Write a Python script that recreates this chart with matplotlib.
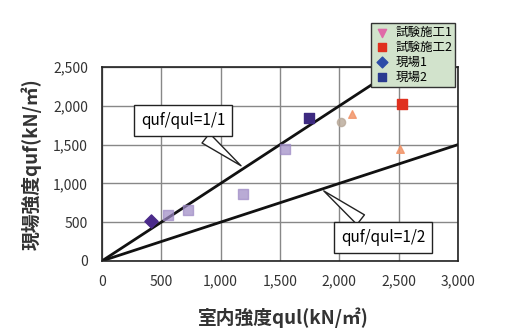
import matplotlib
matplotlib.use("Agg")
import matplotlib.pyplot as plt

plt.rcParams["font.family"] = ["Noto Sans CJK JP", "DejaVu Sans"]

# data (qul, quf in kN/m2)
shiken1_x = [560, 725, 1190, 1540]
shiken1_y = [590, 655, 860, 1450]
shiken2_x = [2010, 2110, 2530, 2510]
shiken2_y = [1790, 1890, 2020, 1450]
genba1_x = [410]
genba1_y = [520]
genba2_x = [1740]
genba2_y = [1840]

ticks_x = [0, 500, 1000, 1500, 2000, 2500, 3000]
ticks_y = [0, 500, 1000, 1500, 2000, 2500]

fig = plt.figure(figsize=(5.05, 3.29), dpi=100)
ax = fig.add_axes([0.202, 0.207, 0.705, 0.589])

ax.set_xlim(0, 3000)
ax.set_ylim(0, 2500)
ax.set_xticks(ticks_x)
ax.set_yticks(ticks_y)
ax.set_xticklabels([f"{t:,}" for t in ticks_x])
ax.set_yticklabels([f"{t:,}" for t in ticks_y])
ax.tick_params(length=0, labelsize=10, colors="#333333")
ax.tick_params(axis="x", pad=10)
ax.tick_params(axis="y", pad=10)
ax.grid(True, color="#888888", lw=1)
ax.set_axisbelow(True)
for s in ax.spines.values():
    s.set_color("#222222")
    s.set_linewidth(1.2)

# ratio lines
ax.plot([0, 2500], [0, 2500], color="#111111", lw=2, zorder=2)
ax.plot([0, 3000], [0, 1500], color="#111111", lw=2, zorder=2)

ax.scatter(shiken1_x, shiken1_y, marker="s", s=45, color="#9c88c4", alpha=0.7, zorder=3)
ax.scatter(shiken2_x[:1], shiken2_y[:1], marker="o", s=35, color="#b8a898", alpha=0.8, zorder=3)
ax.scatter(shiken2_x[1:2] + shiken2_x[3:], shiken2_y[1:2] + shiken2_y[3:], marker="^", s=30,
           color="#f2956a", alpha=0.85, zorder=3)
ax.scatter(shiken2_x[2:3], shiken2_y[2:3], marker="s", s=60, color="#e0301e", zorder=3)
ax.scatter(genba1_x, genba1_y, marker="D", s=45, color="#4a2a8a", zorder=3)
ax.scatter(genba2_x, genba2_y, marker="s", s=50, color="#3d2a80", zorder=3)

box = dict(boxstyle="square,pad=0.45", fc="white", ec="#222222", lw=1)
wedge = dict(arrowstyle="wedge,tail_width=0.8,shrink_factor=0.5", fc="white", ec="#222222", lw=1)
ax.annotate("quf/qul=1/1", xy=(1190, 1205), xytext=(685, 1810), ha="center", va="center",
            fontsize=11, bbox=box, arrowprops=wedge, zorder=4)
ax.annotate("quf/qul=1/2", xy=(1850, 925), xytext=(2370, 305), ha="center", va="center",
            fontsize=11, bbox=box, arrowprops=wedge, zorder=4)

fig.text(0.562, 0.035, "室内強度qul(kN/㎡)", fontsize=13.5, fontweight="bold",
         color="#333333", ha="center", va="center")
fig.text(0.063, 0.5, "現場強度quf(kN/㎡)", fontsize=13.5, fontweight="bold",
         color="#333333", ha="center", va="center", rotation=90)

# legend sticking out above the plot
h1 = ax.scatter([], [], marker="v", s=35, color="#e06aa8")
h2 = ax.scatter([], [], marker="s", s=35, color="#e0301e")
h3 = ax.scatter([], [], marker="D", s=30, color="#2c4ca8")
h4 = ax.scatter([], [], marker="s", s=30, color="#2a3a90")
leg = fig.legend([h1, h2, h3, h4], ["試験施工1", "試験施工2", "現場1", "現場2"],
                 loc="upper left", bbox_to_anchor=(0.722, 0.95), fontsize=9,
                 frameon=True, fancybox=False, edgecolor="#333333", facecolor="#d2e3cc",
                 framealpha=1, handletextpad=0.4, borderpad=0.25, labelspacing=0.15,
                 handlelength=1.3)
leg.set_zorder(10)

fig.savefig("out.png", dpi=100)
